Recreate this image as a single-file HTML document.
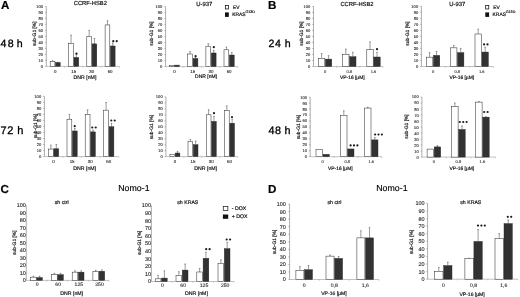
<!DOCTYPE html>
<html><head><meta charset="utf-8"><style>
html,body{margin:0;padding:0;background:#fff;}
body{width:520px;height:297px;overflow:hidden;}
.sm{stroke:#111;stroke-width:0.18px;}
.tk{stroke:#222;stroke-width:0.1px;}
svg{display:block;font-family:"Liberation Sans", sans-serif;filter:grayscale(1) blur(0.3px);text-rendering:geometricPrecision;}
</style></head><body>
<svg width="520" height="297" viewBox="0 0 520 297">
<rect width="520" height="297" fill="#fff"/>
<line x1="46.3" y1="6.30" x2="46.3" y2="66.40" stroke="#777" stroke-width="0.6"/>
<line x1="46.3" y1="66.40" x2="119.5" y2="66.40" stroke="#999" stroke-width="0.6"/>
<line x1="45.0" y1="66.40" x2="46.3" y2="66.40" stroke="#777" stroke-width="0.5"/>
<text class="tk" x="43.10" y="67.88" font-size="4.1" text-anchor="end" font-weight="normal" fill="#222" >0</text>
<line x1="45.0" y1="60.39" x2="46.3" y2="60.39" stroke="#777" stroke-width="0.5"/>
<text class="tk" x="43.10" y="61.87" font-size="4.1" text-anchor="end" font-weight="normal" fill="#222" >10</text>
<line x1="45.0" y1="54.38" x2="46.3" y2="54.38" stroke="#777" stroke-width="0.5"/>
<text class="tk" x="43.10" y="55.86" font-size="4.1" text-anchor="end" font-weight="normal" fill="#222" >20</text>
<line x1="45.0" y1="48.37" x2="46.3" y2="48.37" stroke="#777" stroke-width="0.5"/>
<text class="tk" x="43.10" y="49.85" font-size="4.1" text-anchor="end" font-weight="normal" fill="#222" >30</text>
<line x1="45.0" y1="42.36" x2="46.3" y2="42.36" stroke="#777" stroke-width="0.5"/>
<text class="tk" x="43.10" y="43.84" font-size="4.1" text-anchor="end" font-weight="normal" fill="#222" >40</text>
<line x1="45.0" y1="36.35" x2="46.3" y2="36.35" stroke="#777" stroke-width="0.5"/>
<text class="tk" x="43.10" y="37.83" font-size="4.1" text-anchor="end" font-weight="normal" fill="#222" >50</text>
<line x1="45.0" y1="30.34" x2="46.3" y2="30.34" stroke="#777" stroke-width="0.5"/>
<text class="tk" x="43.10" y="31.82" font-size="4.1" text-anchor="end" font-weight="normal" fill="#222" >60</text>
<line x1="45.0" y1="24.33" x2="46.3" y2="24.33" stroke="#777" stroke-width="0.5"/>
<text class="tk" x="43.10" y="25.81" font-size="4.1" text-anchor="end" font-weight="normal" fill="#222" >70</text>
<line x1="45.0" y1="18.32" x2="46.3" y2="18.32" stroke="#777" stroke-width="0.5"/>
<text class="tk" x="43.10" y="19.80" font-size="4.1" text-anchor="end" font-weight="normal" fill="#222" >80</text>
<line x1="45.0" y1="12.31" x2="46.3" y2="12.31" stroke="#777" stroke-width="0.5"/>
<text class="tk" x="43.10" y="13.79" font-size="4.1" text-anchor="end" font-weight="normal" fill="#222" >90</text>
<line x1="45.0" y1="6.30" x2="46.3" y2="6.30" stroke="#777" stroke-width="0.5"/>
<text class="tk" x="43.10" y="7.78" font-size="4.1" text-anchor="end" font-weight="normal" fill="#222" >100</text>
<line x1="64.60" y1="66.40" x2="64.60" y2="67.60" stroke="#999" stroke-width="0.5"/>
<line x1="82.90" y1="66.40" x2="82.90" y2="67.60" stroke="#999" stroke-width="0.5"/>
<line x1="101.20" y1="66.40" x2="101.20" y2="67.60" stroke="#999" stroke-width="0.5"/>
<line x1="119.50" y1="66.40" x2="119.50" y2="67.60" stroke="#999" stroke-width="0.5"/>
<line x1="52.55" y1="61.59" x2="52.55" y2="60.69" stroke="#3a3a3a" stroke-width="0.5"/>
<line x1="51.75" y1="60.69" x2="53.35" y2="60.69" stroke="#3a3a3a" stroke-width="0.5"/>
<rect x="50.20" y="61.59" width="4.70" height="4.81" fill="#fff" stroke="#222" stroke-width="0.5"/>
<line x1="57.85" y1="62.49" x2="57.85" y2="62.19" stroke="#3a3a3a" stroke-width="0.5"/>
<line x1="57.05" y1="62.19" x2="58.65" y2="62.19" stroke="#3a3a3a" stroke-width="0.5"/>
<rect x="55.50" y="62.49" width="4.70" height="3.91" fill="#323232" stroke="#222" stroke-width="0.4"/>
<text class="tk" x="55.20" y="73.08" font-size="4.4" text-anchor="middle" font-weight="normal" fill="#222" >0</text>
<line x1="71.05" y1="43.56" x2="71.05" y2="35.15" stroke="#3a3a3a" stroke-width="0.5"/>
<line x1="70.25" y1="35.15" x2="71.85" y2="35.15" stroke="#3a3a3a" stroke-width="0.5"/>
<rect x="68.70" y="43.56" width="4.70" height="22.84" fill="#fff" stroke="#222" stroke-width="0.5"/>
<line x1="76.35" y1="57.39" x2="76.35" y2="53.78" stroke="#3a3a3a" stroke-width="0.5"/>
<line x1="75.55" y1="53.78" x2="77.15" y2="53.78" stroke="#3a3a3a" stroke-width="0.5"/>
<rect x="74.00" y="57.39" width="4.70" height="9.02" fill="#323232" stroke="#222" stroke-width="0.4"/>
<circle cx="76.50" cy="53.70" r="1.1" fill="#1a1a1a"/>
<text class="tk" x="73.70" y="73.08" font-size="4.4" text-anchor="middle" font-weight="normal" fill="#222" >15</text>
<line x1="89.15" y1="36.35" x2="89.15" y2="30.34" stroke="#3a3a3a" stroke-width="0.5"/>
<line x1="88.35" y1="30.34" x2="89.95" y2="30.34" stroke="#3a3a3a" stroke-width="0.5"/>
<rect x="86.80" y="36.35" width="4.70" height="30.05" fill="#fff" stroke="#222" stroke-width="0.5"/>
<line x1="94.45" y1="43.86" x2="94.45" y2="38.45" stroke="#3a3a3a" stroke-width="0.5"/>
<line x1="93.65" y1="38.45" x2="95.25" y2="38.45" stroke="#3a3a3a" stroke-width="0.5"/>
<rect x="92.10" y="43.86" width="4.70" height="22.54" fill="#323232" stroke="#222" stroke-width="0.4"/>
<text class="tk" x="91.80" y="73.08" font-size="4.4" text-anchor="middle" font-weight="normal" fill="#222" >30</text>
<line x1="107.45" y1="24.93" x2="107.45" y2="20.72" stroke="#3a3a3a" stroke-width="0.5"/>
<line x1="106.65" y1="20.72" x2="108.25" y2="20.72" stroke="#3a3a3a" stroke-width="0.5"/>
<rect x="105.10" y="24.93" width="4.70" height="41.47" fill="#fff" stroke="#222" stroke-width="0.5"/>
<line x1="112.75" y1="45.97" x2="112.75" y2="42.96" stroke="#3a3a3a" stroke-width="0.5"/>
<line x1="111.95" y1="42.96" x2="113.55" y2="42.96" stroke="#3a3a3a" stroke-width="0.5"/>
<rect x="110.40" y="45.97" width="4.70" height="20.43" fill="#323232" stroke="#222" stroke-width="0.4"/>
<circle cx="113.30" cy="41.20" r="1.1" fill="#1a1a1a"/>
<circle cx="116.70" cy="41.20" r="1.1" fill="#1a1a1a"/>
<text class="tk" x="110.10" y="73.08" font-size="4.4" text-anchor="middle" font-weight="normal" fill="#222" >60</text>
<text class="sm" x="85.00" y="78.57" font-size="5.2" text-anchor="middle" font-weight="normal" fill="#111" >DNR [nM]</text>
<text class="sm" x="90.30" y="5.29" font-size="5.8" text-anchor="middle" font-weight="normal" fill="#111" >CCRF-HSB2</text>
<text class="sm" x="0" y="0" font-size="4.9" text-anchor="middle" fill="#111" transform="translate(36.02,33.70) rotate(-90)">sub-G1 [%]</text>
<line x1="165.6" y1="6.60" x2="165.6" y2="66.60" stroke="#777" stroke-width="0.6"/>
<line x1="165.6" y1="66.60" x2="237.8" y2="66.60" stroke="#999" stroke-width="0.6"/>
<line x1="164.29999999999998" y1="66.60" x2="165.6" y2="66.60" stroke="#777" stroke-width="0.5"/>
<text class="tk" x="162.40" y="68.08" font-size="4.1" text-anchor="end" font-weight="normal" fill="#222" >0</text>
<line x1="164.29999999999998" y1="60.60" x2="165.6" y2="60.60" stroke="#777" stroke-width="0.5"/>
<text class="tk" x="162.40" y="62.08" font-size="4.1" text-anchor="end" font-weight="normal" fill="#222" >10</text>
<line x1="164.29999999999998" y1="54.60" x2="165.6" y2="54.60" stroke="#777" stroke-width="0.5"/>
<text class="tk" x="162.40" y="56.08" font-size="4.1" text-anchor="end" font-weight="normal" fill="#222" >20</text>
<line x1="164.29999999999998" y1="48.60" x2="165.6" y2="48.60" stroke="#777" stroke-width="0.5"/>
<text class="tk" x="162.40" y="50.08" font-size="4.1" text-anchor="end" font-weight="normal" fill="#222" >30</text>
<line x1="164.29999999999998" y1="42.60" x2="165.6" y2="42.60" stroke="#777" stroke-width="0.5"/>
<text class="tk" x="162.40" y="44.08" font-size="4.1" text-anchor="end" font-weight="normal" fill="#222" >40</text>
<line x1="164.29999999999998" y1="36.60" x2="165.6" y2="36.60" stroke="#777" stroke-width="0.5"/>
<text class="tk" x="162.40" y="38.08" font-size="4.1" text-anchor="end" font-weight="normal" fill="#222" >50</text>
<line x1="164.29999999999998" y1="30.60" x2="165.6" y2="30.60" stroke="#777" stroke-width="0.5"/>
<text class="tk" x="162.40" y="32.08" font-size="4.1" text-anchor="end" font-weight="normal" fill="#222" >60</text>
<line x1="164.29999999999998" y1="24.60" x2="165.6" y2="24.60" stroke="#777" stroke-width="0.5"/>
<text class="tk" x="162.40" y="26.08" font-size="4.1" text-anchor="end" font-weight="normal" fill="#222" >70</text>
<line x1="164.29999999999998" y1="18.60" x2="165.6" y2="18.60" stroke="#777" stroke-width="0.5"/>
<text class="tk" x="162.40" y="20.08" font-size="4.1" text-anchor="end" font-weight="normal" fill="#222" >80</text>
<line x1="164.29999999999998" y1="12.60" x2="165.6" y2="12.60" stroke="#777" stroke-width="0.5"/>
<text class="tk" x="162.40" y="14.08" font-size="4.1" text-anchor="end" font-weight="normal" fill="#222" >90</text>
<line x1="164.29999999999998" y1="6.60" x2="165.6" y2="6.60" stroke="#777" stroke-width="0.5"/>
<text class="tk" x="162.40" y="8.08" font-size="4.1" text-anchor="end" font-weight="normal" fill="#222" >100</text>
<line x1="183.65" y1="66.60" x2="183.65" y2="67.80" stroke="#999" stroke-width="0.5"/>
<line x1="201.70" y1="66.60" x2="201.70" y2="67.80" stroke="#999" stroke-width="0.5"/>
<line x1="219.75" y1="66.60" x2="219.75" y2="67.80" stroke="#999" stroke-width="0.5"/>
<line x1="237.80" y1="66.60" x2="237.80" y2="67.80" stroke="#999" stroke-width="0.5"/>
<rect x="169.30" y="65.70" width="4.80" height="0.90" fill="#fff" stroke="#222" stroke-width="0.5"/>
<rect x="174.70" y="65.10" width="4.80" height="1.50" fill="#323232" stroke="#222" stroke-width="0.4"/>
<text class="tk" x="174.40" y="72.68" font-size="4.4" text-anchor="middle" font-weight="normal" fill="#222" >0</text>
<line x1="190.10" y1="54.00" x2="190.10" y2="51.60" stroke="#3a3a3a" stroke-width="0.5"/>
<line x1="189.30" y1="51.60" x2="190.90" y2="51.60" stroke="#3a3a3a" stroke-width="0.5"/>
<rect x="187.70" y="54.00" width="4.80" height="12.60" fill="#fff" stroke="#222" stroke-width="0.5"/>
<line x1="195.50" y1="58.38" x2="195.50" y2="57.30" stroke="#3a3a3a" stroke-width="0.5"/>
<line x1="194.70" y1="57.30" x2="196.30" y2="57.30" stroke="#3a3a3a" stroke-width="0.5"/>
<rect x="193.10" y="58.38" width="4.80" height="8.22" fill="#323232" stroke="#222" stroke-width="0.4"/>
<circle cx="195.60" cy="56.20" r="1.1" fill="#1a1a1a"/>
<text class="tk" x="192.80" y="72.68" font-size="4.4" text-anchor="middle" font-weight="normal" fill="#222" >15</text>
<line x1="208.30" y1="46.20" x2="208.30" y2="43.80" stroke="#3a3a3a" stroke-width="0.5"/>
<line x1="207.50" y1="43.80" x2="209.10" y2="43.80" stroke="#3a3a3a" stroke-width="0.5"/>
<rect x="205.90" y="46.20" width="4.80" height="20.40" fill="#fff" stroke="#222" stroke-width="0.5"/>
<line x1="213.70" y1="52.98" x2="213.70" y2="50.40" stroke="#3a3a3a" stroke-width="0.5"/>
<line x1="212.90" y1="50.40" x2="214.50" y2="50.40" stroke="#3a3a3a" stroke-width="0.5"/>
<rect x="211.30" y="52.98" width="4.80" height="13.62" fill="#323232" stroke="#222" stroke-width="0.4"/>
<circle cx="213.80" cy="47.20" r="1.1" fill="#1a1a1a"/>
<text class="tk" x="211.00" y="72.68" font-size="4.4" text-anchor="middle" font-weight="normal" fill="#222" >30</text>
<line x1="226.40" y1="49.80" x2="226.40" y2="47.10" stroke="#3a3a3a" stroke-width="0.5"/>
<line x1="225.60" y1="47.10" x2="227.20" y2="47.10" stroke="#3a3a3a" stroke-width="0.5"/>
<rect x="224.00" y="49.80" width="4.80" height="16.80" fill="#fff" stroke="#222" stroke-width="0.5"/>
<line x1="231.80" y1="55.02" x2="231.80" y2="52.50" stroke="#3a3a3a" stroke-width="0.5"/>
<line x1="231.00" y1="52.50" x2="232.60" y2="52.50" stroke="#3a3a3a" stroke-width="0.5"/>
<rect x="229.40" y="55.02" width="4.80" height="11.58" fill="#323232" stroke="#222" stroke-width="0.4"/>
<text class="tk" x="229.10" y="72.68" font-size="4.4" text-anchor="middle" font-weight="normal" fill="#222" >60</text>
<text class="sm" x="206.00" y="78.10" font-size="5.0" text-anchor="middle" font-weight="normal" fill="#111" >DNR [nM]</text>
<text class="sm" x="204.30" y="5.62" font-size="5.9" text-anchor="middle" font-weight="normal" fill="#111" >U-937</text>
<text class="sm" x="0" y="0" font-size="4.9" text-anchor="middle" fill="#111" transform="translate(152.82,33.50) rotate(-90)">sub-G1 [%]</text>
<line x1="44.4" y1="96.30" x2="44.4" y2="156.60" stroke="#777" stroke-width="0.6"/>
<line x1="44.4" y1="156.60" x2="118.7" y2="156.60" stroke="#999" stroke-width="0.6"/>
<line x1="43.1" y1="156.60" x2="44.4" y2="156.60" stroke="#777" stroke-width="0.5"/>
<text class="tk" x="41.20" y="158.08" font-size="4.1" text-anchor="end" font-weight="normal" fill="#222" >0</text>
<line x1="43.1" y1="150.57" x2="44.4" y2="150.57" stroke="#777" stroke-width="0.5"/>
<text class="tk" x="41.20" y="152.05" font-size="4.1" text-anchor="end" font-weight="normal" fill="#222" >10</text>
<line x1="43.1" y1="144.54" x2="44.4" y2="144.54" stroke="#777" stroke-width="0.5"/>
<text class="tk" x="41.20" y="146.02" font-size="4.1" text-anchor="end" font-weight="normal" fill="#222" >20</text>
<line x1="43.1" y1="138.51" x2="44.4" y2="138.51" stroke="#777" stroke-width="0.5"/>
<text class="tk" x="41.20" y="139.99" font-size="4.1" text-anchor="end" font-weight="normal" fill="#222" >30</text>
<line x1="43.1" y1="132.48" x2="44.4" y2="132.48" stroke="#777" stroke-width="0.5"/>
<text class="tk" x="41.20" y="133.96" font-size="4.1" text-anchor="end" font-weight="normal" fill="#222" >40</text>
<line x1="43.1" y1="126.45" x2="44.4" y2="126.45" stroke="#777" stroke-width="0.5"/>
<text class="tk" x="41.20" y="127.93" font-size="4.1" text-anchor="end" font-weight="normal" fill="#222" >50</text>
<line x1="43.1" y1="120.42" x2="44.4" y2="120.42" stroke="#777" stroke-width="0.5"/>
<text class="tk" x="41.20" y="121.90" font-size="4.1" text-anchor="end" font-weight="normal" fill="#222" >60</text>
<line x1="43.1" y1="114.39" x2="44.4" y2="114.39" stroke="#777" stroke-width="0.5"/>
<text class="tk" x="41.20" y="115.87" font-size="4.1" text-anchor="end" font-weight="normal" fill="#222" >70</text>
<line x1="43.1" y1="108.36" x2="44.4" y2="108.36" stroke="#777" stroke-width="0.5"/>
<text class="tk" x="41.20" y="109.84" font-size="4.1" text-anchor="end" font-weight="normal" fill="#222" >80</text>
<line x1="43.1" y1="102.33" x2="44.4" y2="102.33" stroke="#777" stroke-width="0.5"/>
<text class="tk" x="41.20" y="103.81" font-size="4.1" text-anchor="end" font-weight="normal" fill="#222" >90</text>
<line x1="43.1" y1="96.30" x2="44.4" y2="96.30" stroke="#777" stroke-width="0.5"/>
<text class="tk" x="41.20" y="97.78" font-size="4.1" text-anchor="end" font-weight="normal" fill="#222" >100</text>
<line x1="62.98" y1="156.60" x2="62.98" y2="157.80" stroke="#999" stroke-width="0.5"/>
<line x1="81.55" y1="156.60" x2="81.55" y2="157.80" stroke="#999" stroke-width="0.5"/>
<line x1="100.12" y1="156.60" x2="100.12" y2="157.80" stroke="#999" stroke-width="0.5"/>
<line x1="118.70" y1="156.60" x2="118.70" y2="157.80" stroke="#999" stroke-width="0.5"/>
<line x1="50.90" y1="149.06" x2="50.90" y2="145.14" stroke="#3a3a3a" stroke-width="0.5"/>
<line x1="50.10" y1="145.14" x2="51.70" y2="145.14" stroke="#3a3a3a" stroke-width="0.5"/>
<rect x="48.50" y="149.06" width="4.80" height="7.54" fill="#fff" stroke="#222" stroke-width="0.5"/>
<line x1="56.30" y1="148.76" x2="56.30" y2="144.54" stroke="#3a3a3a" stroke-width="0.5"/>
<line x1="55.50" y1="144.54" x2="57.10" y2="144.54" stroke="#3a3a3a" stroke-width="0.5"/>
<rect x="53.90" y="148.76" width="4.80" height="7.84" fill="#323232" stroke="#222" stroke-width="0.4"/>
<text class="tk" x="53.60" y="163.18" font-size="4.4" text-anchor="middle" font-weight="normal" fill="#222" >0</text>
<line x1="69.40" y1="119.21" x2="69.40" y2="114.39" stroke="#3a3a3a" stroke-width="0.5"/>
<line x1="68.60" y1="114.39" x2="70.20" y2="114.39" stroke="#3a3a3a" stroke-width="0.5"/>
<rect x="67.00" y="119.21" width="4.80" height="37.39" fill="#fff" stroke="#222" stroke-width="0.5"/>
<line x1="74.80" y1="130.97" x2="74.80" y2="128.44" stroke="#3a3a3a" stroke-width="0.5"/>
<line x1="74.00" y1="128.44" x2="75.60" y2="128.44" stroke="#3a3a3a" stroke-width="0.5"/>
<rect x="72.40" y="130.97" width="4.80" height="25.63" fill="#323232" stroke="#222" stroke-width="0.4"/>
<circle cx="74.70" cy="126.20" r="1.1" fill="#1a1a1a"/>
<text class="tk" x="72.10" y="163.18" font-size="4.4" text-anchor="middle" font-weight="normal" fill="#222" >15</text>
<line x1="87.60" y1="114.39" x2="87.60" y2="109.87" stroke="#3a3a3a" stroke-width="0.5"/>
<line x1="86.80" y1="109.87" x2="88.40" y2="109.87" stroke="#3a3a3a" stroke-width="0.5"/>
<rect x="85.20" y="114.39" width="4.80" height="42.21" fill="#fff" stroke="#222" stroke-width="0.5"/>
<line x1="93.00" y1="131.88" x2="93.00" y2="130.07" stroke="#3a3a3a" stroke-width="0.5"/>
<line x1="92.20" y1="130.07" x2="93.80" y2="130.07" stroke="#3a3a3a" stroke-width="0.5"/>
<rect x="90.60" y="131.88" width="4.80" height="24.72" fill="#323232" stroke="#222" stroke-width="0.4"/>
<circle cx="92.30" cy="127.50" r="1.1" fill="#1a1a1a"/>
<circle cx="95.70" cy="127.50" r="1.1" fill="#1a1a1a"/>
<text class="tk" x="90.30" y="163.18" font-size="4.4" text-anchor="middle" font-weight="normal" fill="#222" >30</text>
<line x1="106.10" y1="110.17" x2="106.10" y2="102.51" stroke="#3a3a3a" stroke-width="0.5"/>
<line x1="105.30" y1="102.51" x2="106.90" y2="102.51" stroke="#3a3a3a" stroke-width="0.5"/>
<rect x="103.70" y="110.17" width="4.80" height="46.43" fill="#fff" stroke="#222" stroke-width="0.5"/>
<line x1="111.50" y1="126.75" x2="111.50" y2="123.44" stroke="#3a3a3a" stroke-width="0.5"/>
<line x1="110.70" y1="123.44" x2="112.30" y2="123.44" stroke="#3a3a3a" stroke-width="0.5"/>
<rect x="109.10" y="126.75" width="4.80" height="29.85" fill="#323232" stroke="#222" stroke-width="0.4"/>
<circle cx="111.30" cy="120.50" r="1.1" fill="#1a1a1a"/>
<circle cx="114.70" cy="120.50" r="1.1" fill="#1a1a1a"/>
<text class="tk" x="108.80" y="163.18" font-size="4.4" text-anchor="middle" font-weight="normal" fill="#222" >60</text>
<text class="sm" x="84.70" y="169.57" font-size="5.2" text-anchor="middle" font-weight="normal" fill="#111" >DNR [nM]</text>
<text class="sm" x="0" y="0" font-size="4.9" text-anchor="middle" fill="#111" transform="translate(36.52,126.10) rotate(-90)">sub-G1 [%]</text>
<line x1="165.9" y1="96.90" x2="165.9" y2="156.60" stroke="#777" stroke-width="0.6"/>
<line x1="165.9" y1="156.60" x2="237.7" y2="156.60" stroke="#999" stroke-width="0.6"/>
<line x1="164.6" y1="156.60" x2="165.9" y2="156.60" stroke="#777" stroke-width="0.5"/>
<text class="tk" x="162.70" y="158.08" font-size="4.1" text-anchor="end" font-weight="normal" fill="#222" >0</text>
<line x1="164.6" y1="150.63" x2="165.9" y2="150.63" stroke="#777" stroke-width="0.5"/>
<text class="tk" x="162.70" y="152.11" font-size="4.1" text-anchor="end" font-weight="normal" fill="#222" >10</text>
<line x1="164.6" y1="144.66" x2="165.9" y2="144.66" stroke="#777" stroke-width="0.5"/>
<text class="tk" x="162.70" y="146.14" font-size="4.1" text-anchor="end" font-weight="normal" fill="#222" >20</text>
<line x1="164.6" y1="138.69" x2="165.9" y2="138.69" stroke="#777" stroke-width="0.5"/>
<text class="tk" x="162.70" y="140.17" font-size="4.1" text-anchor="end" font-weight="normal" fill="#222" >30</text>
<line x1="164.6" y1="132.72" x2="165.9" y2="132.72" stroke="#777" stroke-width="0.5"/>
<text class="tk" x="162.70" y="134.20" font-size="4.1" text-anchor="end" font-weight="normal" fill="#222" >40</text>
<line x1="164.6" y1="126.75" x2="165.9" y2="126.75" stroke="#777" stroke-width="0.5"/>
<text class="tk" x="162.70" y="128.23" font-size="4.1" text-anchor="end" font-weight="normal" fill="#222" >50</text>
<line x1="164.6" y1="120.78" x2="165.9" y2="120.78" stroke="#777" stroke-width="0.5"/>
<text class="tk" x="162.70" y="122.26" font-size="4.1" text-anchor="end" font-weight="normal" fill="#222" >60</text>
<line x1="164.6" y1="114.81" x2="165.9" y2="114.81" stroke="#777" stroke-width="0.5"/>
<text class="tk" x="162.70" y="116.29" font-size="4.1" text-anchor="end" font-weight="normal" fill="#222" >70</text>
<line x1="164.6" y1="108.84" x2="165.9" y2="108.84" stroke="#777" stroke-width="0.5"/>
<text class="tk" x="162.70" y="110.32" font-size="4.1" text-anchor="end" font-weight="normal" fill="#222" >80</text>
<line x1="164.6" y1="102.87" x2="165.9" y2="102.87" stroke="#777" stroke-width="0.5"/>
<text class="tk" x="162.70" y="104.35" font-size="4.1" text-anchor="end" font-weight="normal" fill="#222" >90</text>
<line x1="164.6" y1="96.90" x2="165.9" y2="96.90" stroke="#777" stroke-width="0.5"/>
<text class="tk" x="162.70" y="98.38" font-size="4.1" text-anchor="end" font-weight="normal" fill="#222" >100</text>
<line x1="183.85" y1="156.60" x2="183.85" y2="157.80" stroke="#999" stroke-width="0.5"/>
<line x1="201.80" y1="156.60" x2="201.80" y2="157.80" stroke="#999" stroke-width="0.5"/>
<line x1="219.75" y1="156.60" x2="219.75" y2="157.80" stroke="#999" stroke-width="0.5"/>
<line x1="237.70" y1="156.60" x2="237.70" y2="157.80" stroke="#999" stroke-width="0.5"/>
<rect x="169.90" y="154.39" width="4.70" height="2.21" fill="#fff" stroke="#222" stroke-width="0.5"/>
<line x1="177.55" y1="153.02" x2="177.55" y2="151.41" stroke="#3a3a3a" stroke-width="0.5"/>
<line x1="176.75" y1="151.41" x2="178.35" y2="151.41" stroke="#3a3a3a" stroke-width="0.5"/>
<rect x="175.20" y="153.02" width="4.70" height="3.58" fill="#323232" stroke="#222" stroke-width="0.4"/>
<text class="tk" x="174.90" y="162.98" font-size="4.4" text-anchor="middle" font-weight="normal" fill="#222" >0</text>
<line x1="190.35" y1="141.26" x2="190.35" y2="139.47" stroke="#3a3a3a" stroke-width="0.5"/>
<line x1="189.55" y1="139.47" x2="191.15" y2="139.47" stroke="#3a3a3a" stroke-width="0.5"/>
<rect x="188.00" y="141.26" width="4.70" height="15.34" fill="#fff" stroke="#222" stroke-width="0.5"/>
<line x1="195.65" y1="144.66" x2="195.65" y2="141.08" stroke="#3a3a3a" stroke-width="0.5"/>
<line x1="194.85" y1="141.08" x2="196.45" y2="141.08" stroke="#3a3a3a" stroke-width="0.5"/>
<rect x="193.30" y="144.66" width="4.70" height="11.94" fill="#323232" stroke="#222" stroke-width="0.4"/>
<text class="tk" x="193.00" y="162.98" font-size="4.4" text-anchor="middle" font-weight="normal" fill="#222" >15</text>
<line x1="208.65" y1="114.81" x2="208.65" y2="109.74" stroke="#3a3a3a" stroke-width="0.5"/>
<line x1="207.85" y1="109.74" x2="209.45" y2="109.74" stroke="#3a3a3a" stroke-width="0.5"/>
<rect x="206.30" y="114.81" width="4.70" height="41.79" fill="#fff" stroke="#222" stroke-width="0.5"/>
<line x1="213.95" y1="121.38" x2="213.95" y2="116.42" stroke="#3a3a3a" stroke-width="0.5"/>
<line x1="213.15" y1="116.42" x2="214.75" y2="116.42" stroke="#3a3a3a" stroke-width="0.5"/>
<rect x="211.60" y="121.38" width="4.70" height="35.22" fill="#323232" stroke="#222" stroke-width="0.4"/>
<circle cx="214.00" cy="113.20" r="1.1" fill="#1a1a1a"/>
<text class="tk" x="211.30" y="162.98" font-size="4.4" text-anchor="middle" font-weight="normal" fill="#222" >30</text>
<line x1="226.85" y1="110.63" x2="226.85" y2="105.86" stroke="#3a3a3a" stroke-width="0.5"/>
<line x1="226.05" y1="105.86" x2="227.65" y2="105.86" stroke="#3a3a3a" stroke-width="0.5"/>
<rect x="224.50" y="110.63" width="4.70" height="45.97" fill="#fff" stroke="#222" stroke-width="0.5"/>
<line x1="232.15" y1="123.17" x2="232.15" y2="118.99" stroke="#3a3a3a" stroke-width="0.5"/>
<line x1="231.35" y1="118.99" x2="232.95" y2="118.99" stroke="#3a3a3a" stroke-width="0.5"/>
<rect x="229.80" y="123.17" width="4.70" height="33.43" fill="#323232" stroke="#222" stroke-width="0.4"/>
<circle cx="232.00" cy="117.00" r="1.1" fill="#1a1a1a"/>
<text class="tk" x="229.50" y="162.98" font-size="4.4" text-anchor="middle" font-weight="normal" fill="#222" >60</text>
<text class="sm" x="205.70" y="170.07" font-size="5.2" text-anchor="middle" font-weight="normal" fill="#111" >DNR [nM]</text>
<text class="sm" x="0" y="0" font-size="4.9" text-anchor="middle" fill="#111" transform="translate(152.72,127.10) rotate(-90)">sub-G1 [%]</text>
<line x1="313.5" y1="6.40" x2="313.5" y2="66.50" stroke="#777" stroke-width="0.6"/>
<line x1="313.5" y1="66.50" x2="383" y2="66.50" stroke="#999" stroke-width="0.6"/>
<line x1="312.2" y1="66.50" x2="313.5" y2="66.50" stroke="#777" stroke-width="0.5"/>
<text class="tk" x="310.30" y="67.98" font-size="4.1" text-anchor="end" font-weight="normal" fill="#222" >0</text>
<line x1="312.2" y1="60.49" x2="313.5" y2="60.49" stroke="#777" stroke-width="0.5"/>
<text class="tk" x="310.30" y="61.97" font-size="4.1" text-anchor="end" font-weight="normal" fill="#222" >10</text>
<line x1="312.2" y1="54.48" x2="313.5" y2="54.48" stroke="#777" stroke-width="0.5"/>
<text class="tk" x="310.30" y="55.96" font-size="4.1" text-anchor="end" font-weight="normal" fill="#222" >20</text>
<line x1="312.2" y1="48.47" x2="313.5" y2="48.47" stroke="#777" stroke-width="0.5"/>
<text class="tk" x="310.30" y="49.95" font-size="4.1" text-anchor="end" font-weight="normal" fill="#222" >30</text>
<line x1="312.2" y1="42.46" x2="313.5" y2="42.46" stroke="#777" stroke-width="0.5"/>
<text class="tk" x="310.30" y="43.94" font-size="4.1" text-anchor="end" font-weight="normal" fill="#222" >40</text>
<line x1="312.2" y1="36.45" x2="313.5" y2="36.45" stroke="#777" stroke-width="0.5"/>
<text class="tk" x="310.30" y="37.93" font-size="4.1" text-anchor="end" font-weight="normal" fill="#222" >50</text>
<line x1="312.2" y1="30.44" x2="313.5" y2="30.44" stroke="#777" stroke-width="0.5"/>
<text class="tk" x="310.30" y="31.92" font-size="4.1" text-anchor="end" font-weight="normal" fill="#222" >60</text>
<line x1="312.2" y1="24.43" x2="313.5" y2="24.43" stroke="#777" stroke-width="0.5"/>
<text class="tk" x="310.30" y="25.91" font-size="4.1" text-anchor="end" font-weight="normal" fill="#222" >70</text>
<line x1="312.2" y1="18.42" x2="313.5" y2="18.42" stroke="#777" stroke-width="0.5"/>
<text class="tk" x="310.30" y="19.90" font-size="4.1" text-anchor="end" font-weight="normal" fill="#222" >80</text>
<line x1="312.2" y1="12.41" x2="313.5" y2="12.41" stroke="#777" stroke-width="0.5"/>
<text class="tk" x="310.30" y="13.89" font-size="4.1" text-anchor="end" font-weight="normal" fill="#222" >90</text>
<line x1="312.2" y1="6.40" x2="313.5" y2="6.40" stroke="#777" stroke-width="0.5"/>
<text class="tk" x="310.30" y="7.88" font-size="4.1" text-anchor="end" font-weight="normal" fill="#222" >100</text>
<line x1="336.67" y1="66.50" x2="336.67" y2="67.70" stroke="#999" stroke-width="0.5"/>
<line x1="359.83" y1="66.50" x2="359.83" y2="67.70" stroke="#999" stroke-width="0.5"/>
<line x1="383.00" y1="66.50" x2="383.00" y2="67.70" stroke="#999" stroke-width="0.5"/>
<line x1="321.60" y1="58.39" x2="321.60" y2="53.58" stroke="#3a3a3a" stroke-width="0.5"/>
<line x1="320.80" y1="53.58" x2="322.40" y2="53.58" stroke="#3a3a3a" stroke-width="0.5"/>
<rect x="318.40" y="58.39" width="6.40" height="8.11" fill="#fff" stroke="#222" stroke-width="0.5"/>
<line x1="328.60" y1="59.11" x2="328.60" y2="55.68" stroke="#3a3a3a" stroke-width="0.5"/>
<line x1="327.80" y1="55.68" x2="329.40" y2="55.68" stroke="#3a3a3a" stroke-width="0.5"/>
<rect x="325.40" y="59.11" width="6.40" height="7.39" fill="#323232" stroke="#222" stroke-width="0.4"/>
<text class="tk" x="325.10" y="72.94" font-size="4.0" text-anchor="middle" font-weight="normal" fill="#222" >0</text>
<line x1="345.80" y1="54.48" x2="345.80" y2="49.07" stroke="#3a3a3a" stroke-width="0.5"/>
<line x1="345.00" y1="49.07" x2="346.60" y2="49.07" stroke="#3a3a3a" stroke-width="0.5"/>
<rect x="342.60" y="54.48" width="6.40" height="12.02" fill="#fff" stroke="#222" stroke-width="0.5"/>
<line x1="352.80" y1="56.70" x2="352.80" y2="52.26" stroke="#3a3a3a" stroke-width="0.5"/>
<line x1="352.00" y1="52.26" x2="353.60" y2="52.26" stroke="#3a3a3a" stroke-width="0.5"/>
<rect x="349.60" y="56.70" width="6.40" height="9.80" fill="#323232" stroke="#222" stroke-width="0.4"/>
<text class="tk" x="349.30" y="72.94" font-size="4.0" text-anchor="middle" font-weight="normal" fill="#222" >0.8</text>
<line x1="370.00" y1="49.67" x2="370.00" y2="41.86" stroke="#3a3a3a" stroke-width="0.5"/>
<line x1="369.20" y1="41.86" x2="370.80" y2="41.86" stroke="#3a3a3a" stroke-width="0.5"/>
<rect x="366.80" y="49.67" width="6.40" height="16.83" fill="#fff" stroke="#222" stroke-width="0.5"/>
<line x1="377.00" y1="57.00" x2="377.00" y2="52.26" stroke="#3a3a3a" stroke-width="0.5"/>
<line x1="376.20" y1="52.26" x2="377.80" y2="52.26" stroke="#3a3a3a" stroke-width="0.5"/>
<rect x="373.80" y="57.00" width="6.40" height="9.50" fill="#323232" stroke="#222" stroke-width="0.4"/>
<circle cx="377.00" cy="49.20" r="1.1" fill="#1a1a1a"/>
<text class="tk" x="373.50" y="72.94" font-size="4.0" text-anchor="middle" font-weight="normal" fill="#222" >1.6</text>
<text class="sm" x="352.30" y="79.06" font-size="4.9" text-anchor="middle" font-weight="normal" fill="#111" >VP-16 [µM]</text>
<text class="sm" x="357.00" y="5.59" font-size="5.8" text-anchor="middle" font-weight="normal" fill="#111" >CCRF-HSB2</text>
<text class="sm" x="0" y="0" font-size="4.9" text-anchor="middle" fill="#111" transform="translate(302.52,33.50) rotate(-90)">sub-G1 [%]</text>
<line x1="421.4" y1="6.30" x2="421.4" y2="66.50" stroke="#777" stroke-width="0.6"/>
<line x1="421.4" y1="66.50" x2="493.7" y2="66.50" stroke="#999" stroke-width="0.6"/>
<line x1="420.09999999999997" y1="66.50" x2="421.4" y2="66.50" stroke="#777" stroke-width="0.5"/>
<text class="tk" x="418.20" y="67.98" font-size="4.1" text-anchor="end" font-weight="normal" fill="#222" >0</text>
<line x1="420.09999999999997" y1="60.48" x2="421.4" y2="60.48" stroke="#777" stroke-width="0.5"/>
<text class="tk" x="418.20" y="61.96" font-size="4.1" text-anchor="end" font-weight="normal" fill="#222" >10</text>
<line x1="420.09999999999997" y1="54.46" x2="421.4" y2="54.46" stroke="#777" stroke-width="0.5"/>
<text class="tk" x="418.20" y="55.94" font-size="4.1" text-anchor="end" font-weight="normal" fill="#222" >20</text>
<line x1="420.09999999999997" y1="48.44" x2="421.4" y2="48.44" stroke="#777" stroke-width="0.5"/>
<text class="tk" x="418.20" y="49.92" font-size="4.1" text-anchor="end" font-weight="normal" fill="#222" >30</text>
<line x1="420.09999999999997" y1="42.42" x2="421.4" y2="42.42" stroke="#777" stroke-width="0.5"/>
<text class="tk" x="418.20" y="43.90" font-size="4.1" text-anchor="end" font-weight="normal" fill="#222" >40</text>
<line x1="420.09999999999997" y1="36.40" x2="421.4" y2="36.40" stroke="#777" stroke-width="0.5"/>
<text class="tk" x="418.20" y="37.88" font-size="4.1" text-anchor="end" font-weight="normal" fill="#222" >50</text>
<line x1="420.09999999999997" y1="30.38" x2="421.4" y2="30.38" stroke="#777" stroke-width="0.5"/>
<text class="tk" x="418.20" y="31.86" font-size="4.1" text-anchor="end" font-weight="normal" fill="#222" >60</text>
<line x1="420.09999999999997" y1="24.36" x2="421.4" y2="24.36" stroke="#777" stroke-width="0.5"/>
<text class="tk" x="418.20" y="25.84" font-size="4.1" text-anchor="end" font-weight="normal" fill="#222" >70</text>
<line x1="420.09999999999997" y1="18.34" x2="421.4" y2="18.34" stroke="#777" stroke-width="0.5"/>
<text class="tk" x="418.20" y="19.82" font-size="4.1" text-anchor="end" font-weight="normal" fill="#222" >80</text>
<line x1="420.09999999999997" y1="12.32" x2="421.4" y2="12.32" stroke="#777" stroke-width="0.5"/>
<text class="tk" x="418.20" y="13.80" font-size="4.1" text-anchor="end" font-weight="normal" fill="#222" >90</text>
<line x1="420.09999999999997" y1="6.30" x2="421.4" y2="6.30" stroke="#777" stroke-width="0.5"/>
<text class="tk" x="418.20" y="7.78" font-size="4.1" text-anchor="end" font-weight="normal" fill="#222" >100</text>
<line x1="445.50" y1="66.50" x2="445.50" y2="67.70" stroke="#999" stroke-width="0.5"/>
<line x1="469.60" y1="66.50" x2="469.60" y2="67.70" stroke="#999" stroke-width="0.5"/>
<line x1="493.70" y1="66.50" x2="493.70" y2="67.70" stroke="#999" stroke-width="0.5"/>
<line x1="429.60" y1="57.17" x2="429.60" y2="52.65" stroke="#3a3a3a" stroke-width="0.5"/>
<line x1="428.80" y1="52.65" x2="430.40" y2="52.65" stroke="#3a3a3a" stroke-width="0.5"/>
<rect x="426.40" y="57.17" width="6.40" height="9.33" fill="#fff" stroke="#222" stroke-width="0.5"/>
<line x1="436.60" y1="55.36" x2="436.60" y2="51.45" stroke="#3a3a3a" stroke-width="0.5"/>
<line x1="435.80" y1="51.45" x2="437.40" y2="51.45" stroke="#3a3a3a" stroke-width="0.5"/>
<rect x="433.40" y="55.36" width="6.40" height="11.14" fill="#323232" stroke="#222" stroke-width="0.4"/>
<text class="tk" x="433.10" y="72.74" font-size="4.0" text-anchor="middle" font-weight="normal" fill="#222" >0</text>
<line x1="453.70" y1="47.84" x2="453.70" y2="45.43" stroke="#3a3a3a" stroke-width="0.5"/>
<line x1="452.90" y1="45.43" x2="454.50" y2="45.43" stroke="#3a3a3a" stroke-width="0.5"/>
<rect x="450.50" y="47.84" width="6.40" height="18.66" fill="#fff" stroke="#222" stroke-width="0.5"/>
<line x1="460.70" y1="52.65" x2="460.70" y2="48.44" stroke="#3a3a3a" stroke-width="0.5"/>
<line x1="459.90" y1="48.44" x2="461.50" y2="48.44" stroke="#3a3a3a" stroke-width="0.5"/>
<rect x="457.50" y="52.65" width="6.40" height="13.85" fill="#323232" stroke="#222" stroke-width="0.4"/>
<text class="tk" x="457.20" y="72.74" font-size="4.0" text-anchor="middle" font-weight="normal" fill="#222" >0.8</text>
<line x1="478.20" y1="33.99" x2="478.20" y2="29.18" stroke="#3a3a3a" stroke-width="0.5"/>
<line x1="477.40" y1="29.18" x2="479.00" y2="29.18" stroke="#3a3a3a" stroke-width="0.5"/>
<rect x="475.00" y="33.99" width="6.40" height="32.51" fill="#fff" stroke="#222" stroke-width="0.5"/>
<line x1="485.20" y1="52.05" x2="485.20" y2="47.24" stroke="#3a3a3a" stroke-width="0.5"/>
<line x1="484.40" y1="47.24" x2="486.00" y2="47.24" stroke="#3a3a3a" stroke-width="0.5"/>
<rect x="482.00" y="52.05" width="6.40" height="14.45" fill="#323232" stroke="#222" stroke-width="0.4"/>
<circle cx="484.10" cy="44.40" r="1.1" fill="#1a1a1a"/>
<circle cx="487.50" cy="44.40" r="1.1" fill="#1a1a1a"/>
<text class="tk" x="481.70" y="72.74" font-size="4.0" text-anchor="middle" font-weight="normal" fill="#222" >1.6</text>
<text class="sm" x="461.80" y="79.06" font-size="4.9" text-anchor="middle" font-weight="normal" fill="#111" >VP-16 [µM]</text>
<text class="sm" x="457.20" y="5.62" font-size="5.9" text-anchor="middle" font-weight="normal" fill="#111" >U-937</text>
<text class="sm" x="0" y="0" font-size="4.9" text-anchor="middle" fill="#111" transform="translate(408.92,33.50) rotate(-90)">sub-G1 [%]</text>
<line x1="310.2" y1="97.10" x2="310.2" y2="156.70" stroke="#777" stroke-width="0.6"/>
<line x1="310.2" y1="156.70" x2="381.9" y2="156.70" stroke="#999" stroke-width="0.6"/>
<line x1="308.9" y1="156.70" x2="310.2" y2="156.70" stroke="#777" stroke-width="0.5"/>
<text class="tk" x="307.00" y="158.18" font-size="4.1" text-anchor="end" font-weight="normal" fill="#222" >0</text>
<line x1="308.9" y1="150.74" x2="310.2" y2="150.74" stroke="#777" stroke-width="0.5"/>
<text class="tk" x="307.00" y="152.22" font-size="4.1" text-anchor="end" font-weight="normal" fill="#222" >10</text>
<line x1="308.9" y1="144.78" x2="310.2" y2="144.78" stroke="#777" stroke-width="0.5"/>
<text class="tk" x="307.00" y="146.26" font-size="4.1" text-anchor="end" font-weight="normal" fill="#222" >20</text>
<line x1="308.9" y1="138.82" x2="310.2" y2="138.82" stroke="#777" stroke-width="0.5"/>
<text class="tk" x="307.00" y="140.30" font-size="4.1" text-anchor="end" font-weight="normal" fill="#222" >30</text>
<line x1="308.9" y1="132.86" x2="310.2" y2="132.86" stroke="#777" stroke-width="0.5"/>
<text class="tk" x="307.00" y="134.34" font-size="4.1" text-anchor="end" font-weight="normal" fill="#222" >40</text>
<line x1="308.9" y1="126.90" x2="310.2" y2="126.90" stroke="#777" stroke-width="0.5"/>
<text class="tk" x="307.00" y="128.38" font-size="4.1" text-anchor="end" font-weight="normal" fill="#222" >50</text>
<line x1="308.9" y1="120.94" x2="310.2" y2="120.94" stroke="#777" stroke-width="0.5"/>
<text class="tk" x="307.00" y="122.42" font-size="4.1" text-anchor="end" font-weight="normal" fill="#222" >60</text>
<line x1="308.9" y1="114.98" x2="310.2" y2="114.98" stroke="#777" stroke-width="0.5"/>
<text class="tk" x="307.00" y="116.46" font-size="4.1" text-anchor="end" font-weight="normal" fill="#222" >70</text>
<line x1="308.9" y1="109.02" x2="310.2" y2="109.02" stroke="#777" stroke-width="0.5"/>
<text class="tk" x="307.00" y="110.50" font-size="4.1" text-anchor="end" font-weight="normal" fill="#222" >80</text>
<line x1="308.9" y1="103.06" x2="310.2" y2="103.06" stroke="#777" stroke-width="0.5"/>
<text class="tk" x="307.00" y="104.54" font-size="4.1" text-anchor="end" font-weight="normal" fill="#222" >90</text>
<line x1="308.9" y1="97.10" x2="310.2" y2="97.10" stroke="#777" stroke-width="0.5"/>
<text class="tk" x="307.00" y="98.58" font-size="4.1" text-anchor="end" font-weight="normal" fill="#222" >100</text>
<line x1="334.10" y1="156.70" x2="334.10" y2="157.90" stroke="#999" stroke-width="0.5"/>
<line x1="358.00" y1="156.70" x2="358.00" y2="157.90" stroke="#999" stroke-width="0.5"/>
<line x1="381.90" y1="156.70" x2="381.90" y2="157.90" stroke="#999" stroke-width="0.5"/>
<rect x="316.00" y="149.25" width="6.40" height="7.45" fill="#fff" stroke="#222" stroke-width="0.5"/>
<rect x="323.00" y="154.32" width="6.40" height="2.38" fill="#323232" stroke="#222" stroke-width="0.4"/>
<text class="tk" x="322.70" y="163.34" font-size="4.0" text-anchor="middle" font-weight="normal" fill="#222" >0</text>
<line x1="343.80" y1="115.40" x2="343.80" y2="110.81" stroke="#3a3a3a" stroke-width="0.5"/>
<line x1="343.00" y1="110.81" x2="344.60" y2="110.81" stroke="#3a3a3a" stroke-width="0.5"/>
<rect x="340.60" y="115.40" width="6.40" height="41.30" fill="#fff" stroke="#222" stroke-width="0.5"/>
<rect x="347.60" y="148.95" width="6.40" height="7.75" fill="#323232" stroke="#222" stroke-width="0.4"/>
<circle cx="350.60" cy="145.40" r="1.1" fill="#1a1a1a"/>
<circle cx="354.00" cy="145.40" r="1.1" fill="#1a1a1a"/>
<circle cx="357.40" cy="145.40" r="1.1" fill="#1a1a1a"/>
<text class="tk" x="347.30" y="163.34" font-size="4.0" text-anchor="middle" font-weight="normal" fill="#222" >0.8</text>
<line x1="367.80" y1="108.07" x2="367.80" y2="107.11" stroke="#3a3a3a" stroke-width="0.5"/>
<line x1="367.00" y1="107.11" x2="368.60" y2="107.11" stroke="#3a3a3a" stroke-width="0.5"/>
<rect x="364.60" y="108.07" width="6.40" height="48.63" fill="#fff" stroke="#222" stroke-width="0.5"/>
<line x1="374.80" y1="139.89" x2="374.80" y2="137.63" stroke="#3a3a3a" stroke-width="0.5"/>
<line x1="374.00" y1="137.63" x2="375.60" y2="137.63" stroke="#3a3a3a" stroke-width="0.5"/>
<rect x="371.60" y="139.89" width="6.40" height="16.81" fill="#323232" stroke="#222" stroke-width="0.4"/>
<circle cx="375.10" cy="134.50" r="1.1" fill="#1a1a1a"/>
<circle cx="378.50" cy="134.50" r="1.1" fill="#1a1a1a"/>
<circle cx="381.90" cy="134.50" r="1.1" fill="#1a1a1a"/>
<text class="tk" x="371.30" y="163.34" font-size="4.0" text-anchor="middle" font-weight="normal" fill="#222" >1.6</text>
<text class="sm" x="340.30" y="170.26" font-size="4.9" text-anchor="middle" font-weight="normal" fill="#111" >VP-16 [µM]</text>
<text class="sm" x="0" y="0" font-size="4.9" text-anchor="middle" fill="#111" transform="translate(299.92,127.10) rotate(-90)">sub-G1 [%]</text>
<line x1="421.9" y1="97.00" x2="421.9" y2="157.10" stroke="#777" stroke-width="0.6"/>
<line x1="421.9" y1="157.10" x2="495.6" y2="157.10" stroke="#999" stroke-width="0.6"/>
<line x1="420.59999999999997" y1="157.10" x2="421.9" y2="157.10" stroke="#777" stroke-width="0.5"/>
<text class="tk" x="418.70" y="158.58" font-size="4.1" text-anchor="end" font-weight="normal" fill="#222" >0</text>
<line x1="420.59999999999997" y1="151.09" x2="421.9" y2="151.09" stroke="#777" stroke-width="0.5"/>
<text class="tk" x="418.70" y="152.57" font-size="4.1" text-anchor="end" font-weight="normal" fill="#222" >10</text>
<line x1="420.59999999999997" y1="145.08" x2="421.9" y2="145.08" stroke="#777" stroke-width="0.5"/>
<text class="tk" x="418.70" y="146.56" font-size="4.1" text-anchor="end" font-weight="normal" fill="#222" >20</text>
<line x1="420.59999999999997" y1="139.07" x2="421.9" y2="139.07" stroke="#777" stroke-width="0.5"/>
<text class="tk" x="418.70" y="140.55" font-size="4.1" text-anchor="end" font-weight="normal" fill="#222" >30</text>
<line x1="420.59999999999997" y1="133.06" x2="421.9" y2="133.06" stroke="#777" stroke-width="0.5"/>
<text class="tk" x="418.70" y="134.54" font-size="4.1" text-anchor="end" font-weight="normal" fill="#222" >40</text>
<line x1="420.59999999999997" y1="127.05" x2="421.9" y2="127.05" stroke="#777" stroke-width="0.5"/>
<text class="tk" x="418.70" y="128.53" font-size="4.1" text-anchor="end" font-weight="normal" fill="#222" >50</text>
<line x1="420.59999999999997" y1="121.04" x2="421.9" y2="121.04" stroke="#777" stroke-width="0.5"/>
<text class="tk" x="418.70" y="122.52" font-size="4.1" text-anchor="end" font-weight="normal" fill="#222" >60</text>
<line x1="420.59999999999997" y1="115.03" x2="421.9" y2="115.03" stroke="#777" stroke-width="0.5"/>
<text class="tk" x="418.70" y="116.51" font-size="4.1" text-anchor="end" font-weight="normal" fill="#222" >70</text>
<line x1="420.59999999999997" y1="109.02" x2="421.9" y2="109.02" stroke="#777" stroke-width="0.5"/>
<text class="tk" x="418.70" y="110.50" font-size="4.1" text-anchor="end" font-weight="normal" fill="#222" >80</text>
<line x1="420.59999999999997" y1="103.01" x2="421.9" y2="103.01" stroke="#777" stroke-width="0.5"/>
<text class="tk" x="418.70" y="104.49" font-size="4.1" text-anchor="end" font-weight="normal" fill="#222" >90</text>
<line x1="420.59999999999997" y1="97.00" x2="421.9" y2="97.00" stroke="#777" stroke-width="0.5"/>
<text class="tk" x="418.70" y="98.48" font-size="4.1" text-anchor="end" font-weight="normal" fill="#222" >100</text>
<line x1="446.47" y1="157.10" x2="446.47" y2="158.30" stroke="#999" stroke-width="0.5"/>
<line x1="471.03" y1="157.10" x2="471.03" y2="158.30" stroke="#999" stroke-width="0.5"/>
<line x1="495.60" y1="157.10" x2="495.60" y2="158.30" stroke="#999" stroke-width="0.5"/>
<rect x="427.10" y="149.11" width="6.50" height="7.99" fill="#fff" stroke="#222" stroke-width="0.5"/>
<line x1="437.45" y1="146.88" x2="437.45" y2="145.68" stroke="#3a3a3a" stroke-width="0.5"/>
<line x1="436.65" y1="145.68" x2="438.25" y2="145.68" stroke="#3a3a3a" stroke-width="0.5"/>
<rect x="434.20" y="146.88" width="6.50" height="10.22" fill="#323232" stroke="#222" stroke-width="0.4"/>
<text class="tk" x="433.90" y="163.44" font-size="4.0" text-anchor="middle" font-weight="normal" fill="#222" >0</text>
<line x1="454.85" y1="106.62" x2="454.85" y2="103.01" stroke="#3a3a3a" stroke-width="0.5"/>
<line x1="454.05" y1="103.01" x2="455.65" y2="103.01" stroke="#3a3a3a" stroke-width="0.5"/>
<rect x="451.60" y="106.62" width="6.50" height="50.48" fill="#fff" stroke="#222" stroke-width="0.5"/>
<line x1="461.95" y1="129.45" x2="461.95" y2="125.85" stroke="#3a3a3a" stroke-width="0.5"/>
<line x1="461.15" y1="125.85" x2="462.75" y2="125.85" stroke="#3a3a3a" stroke-width="0.5"/>
<rect x="458.70" y="129.45" width="6.50" height="27.65" fill="#323232" stroke="#222" stroke-width="0.4"/>
<circle cx="459.80" cy="122.00" r="1.1" fill="#1a1a1a"/>
<circle cx="463.20" cy="122.00" r="1.1" fill="#1a1a1a"/>
<circle cx="466.60" cy="122.00" r="1.1" fill="#1a1a1a"/>
<text class="tk" x="458.40" y="163.44" font-size="4.0" text-anchor="middle" font-weight="normal" fill="#222" >0.8</text>
<line x1="478.85" y1="102.11" x2="478.85" y2="101.51" stroke="#3a3a3a" stroke-width="0.5"/>
<line x1="478.05" y1="101.51" x2="479.65" y2="101.51" stroke="#3a3a3a" stroke-width="0.5"/>
<rect x="475.60" y="102.11" width="6.50" height="54.99" fill="#fff" stroke="#222" stroke-width="0.5"/>
<line x1="485.95" y1="117.13" x2="485.95" y2="116.71" stroke="#3a3a3a" stroke-width="0.5"/>
<line x1="485.15" y1="116.71" x2="486.75" y2="116.71" stroke="#3a3a3a" stroke-width="0.5"/>
<rect x="482.70" y="117.13" width="6.50" height="39.97" fill="#323232" stroke="#222" stroke-width="0.4"/>
<circle cx="484.20" cy="112.00" r="1.1" fill="#1a1a1a"/>
<circle cx="487.60" cy="112.00" r="1.1" fill="#1a1a1a"/>
<text class="tk" x="482.40" y="163.44" font-size="4.0" text-anchor="middle" font-weight="normal" fill="#222" >1.6</text>
<text class="sm" x="461.90" y="170.26" font-size="4.9" text-anchor="middle" font-weight="normal" fill="#111" >VP-16 [µM]</text>
<text class="sm" x="0" y="0" font-size="4.9" text-anchor="middle" fill="#111" transform="translate(407.92,126.50) rotate(-90)">sub-G1 [%]</text>
<line x1="26.3" y1="205.30" x2="26.3" y2="280.40" stroke="#777" stroke-width="0.6"/>
<line x1="26.3" y1="280.40" x2="109" y2="280.40" stroke="#999" stroke-width="0.6"/>
<text class="tk" x="25.90" y="282.38" font-size="5.5" text-anchor="end" font-weight="normal" fill="#222" >0</text>
<text class="tk" x="25.90" y="274.87" font-size="5.5" text-anchor="end" font-weight="normal" fill="#222" >10</text>
<text class="tk" x="25.90" y="267.36" font-size="5.5" text-anchor="end" font-weight="normal" fill="#222" >20</text>
<text class="tk" x="25.90" y="259.85" font-size="5.5" text-anchor="end" font-weight="normal" fill="#222" >30</text>
<text class="tk" x="25.90" y="252.34" font-size="5.5" text-anchor="end" font-weight="normal" fill="#222" >40</text>
<text class="tk" x="25.90" y="244.83" font-size="5.5" text-anchor="end" font-weight="normal" fill="#222" >50</text>
<text class="tk" x="25.90" y="237.32" font-size="5.5" text-anchor="end" font-weight="normal" fill="#222" >60</text>
<text class="tk" x="25.90" y="229.81" font-size="5.5" text-anchor="end" font-weight="normal" fill="#222" >70</text>
<text class="tk" x="25.90" y="222.30" font-size="5.5" text-anchor="end" font-weight="normal" fill="#222" >80</text>
<text class="tk" x="25.90" y="214.79" font-size="5.5" text-anchor="end" font-weight="normal" fill="#222" >90</text>
<text class="tk" x="25.90" y="207.28" font-size="5.5" text-anchor="end" font-weight="normal" fill="#222" >100</text>
<line x1="46.98" y1="280.40" x2="46.98" y2="281.60" stroke="#999" stroke-width="0.5"/>
<line x1="67.65" y1="280.40" x2="67.65" y2="281.60" stroke="#999" stroke-width="0.5"/>
<line x1="88.33" y1="280.40" x2="88.33" y2="281.60" stroke="#999" stroke-width="0.5"/>
<line x1="109.00" y1="280.40" x2="109.00" y2="281.60" stroke="#999" stroke-width="0.5"/>
<line x1="33.40" y1="277.17" x2="33.40" y2="276.19" stroke="#3a3a3a" stroke-width="0.5"/>
<line x1="32.60" y1="276.19" x2="34.20" y2="276.19" stroke="#3a3a3a" stroke-width="0.5"/>
<rect x="30.60" y="277.17" width="5.60" height="3.23" fill="#fff" stroke="#222" stroke-width="0.5"/>
<line x1="39.60" y1="277.55" x2="39.60" y2="276.19" stroke="#3a3a3a" stroke-width="0.5"/>
<line x1="38.80" y1="276.19" x2="40.40" y2="276.19" stroke="#3a3a3a" stroke-width="0.5"/>
<rect x="36.80" y="277.55" width="5.60" height="2.85" fill="#323232" stroke="#222" stroke-width="0.4"/>
<text class="tk" x="37.20" y="286.24" font-size="5.1" text-anchor="middle" font-weight="normal" fill="#222" >0</text>
<line x1="54.40" y1="274.69" x2="54.40" y2="273.34" stroke="#3a3a3a" stroke-width="0.5"/>
<line x1="53.60" y1="273.34" x2="55.20" y2="273.34" stroke="#3a3a3a" stroke-width="0.5"/>
<rect x="51.60" y="274.69" width="5.60" height="5.71" fill="#fff" stroke="#222" stroke-width="0.5"/>
<line x1="60.60" y1="274.69" x2="60.60" y2="273.34" stroke="#3a3a3a" stroke-width="0.5"/>
<line x1="59.80" y1="273.34" x2="61.40" y2="273.34" stroke="#3a3a3a" stroke-width="0.5"/>
<rect x="57.80" y="274.69" width="5.60" height="5.71" fill="#323232" stroke="#222" stroke-width="0.4"/>
<text class="tk" x="58.20" y="286.24" font-size="5.1" text-anchor="middle" font-weight="normal" fill="#222" >60</text>
<line x1="75.00" y1="272.14" x2="75.00" y2="270.79" stroke="#3a3a3a" stroke-width="0.5"/>
<line x1="74.20" y1="270.79" x2="75.80" y2="270.79" stroke="#3a3a3a" stroke-width="0.5"/>
<rect x="72.20" y="272.14" width="5.60" height="8.26" fill="#fff" stroke="#222" stroke-width="0.5"/>
<line x1="81.20" y1="272.14" x2="81.20" y2="270.79" stroke="#3a3a3a" stroke-width="0.5"/>
<line x1="80.40" y1="270.79" x2="82.00" y2="270.79" stroke="#3a3a3a" stroke-width="0.5"/>
<rect x="78.40" y="272.14" width="5.60" height="8.26" fill="#323232" stroke="#222" stroke-width="0.4"/>
<text class="tk" x="78.80" y="286.24" font-size="5.1" text-anchor="middle" font-weight="normal" fill="#222" >125</text>
<line x1="95.70" y1="271.69" x2="95.70" y2="270.34" stroke="#3a3a3a" stroke-width="0.5"/>
<line x1="94.90" y1="270.34" x2="96.50" y2="270.34" stroke="#3a3a3a" stroke-width="0.5"/>
<rect x="92.90" y="271.69" width="5.60" height="8.71" fill="#fff" stroke="#222" stroke-width="0.5"/>
<line x1="101.90" y1="271.24" x2="101.90" y2="269.89" stroke="#3a3a3a" stroke-width="0.5"/>
<line x1="101.10" y1="269.89" x2="102.70" y2="269.89" stroke="#3a3a3a" stroke-width="0.5"/>
<rect x="99.10" y="271.24" width="5.60" height="9.16" fill="#323232" stroke="#222" stroke-width="0.4"/>
<text class="tk" x="99.50" y="286.24" font-size="5.1" text-anchor="middle" font-weight="normal" fill="#222" >250</text>
<text class="sm" x="71.70" y="295.07" font-size="5.2" text-anchor="middle" font-weight="normal" fill="#111" >DNR [nM]</text>
<text class="sm" x="61.70" y="204.07" font-size="5.2" text-anchor="middle" font-weight="normal" fill="#111" >sh ctrl</text>
<text class="sm" x="0" y="0" font-size="4.9" text-anchor="middle" fill="#111" transform="translate(16.42,242.70) rotate(-90)">sub-G1 [%]</text>
<line x1="151.4" y1="205.40" x2="151.4" y2="281.50" stroke="#777" stroke-width="0.6"/>
<line x1="151.4" y1="281.50" x2="234.2" y2="281.50" stroke="#999" stroke-width="0.6"/>
<text class="tk" x="151.00" y="283.48" font-size="5.5" text-anchor="end" font-weight="normal" fill="#222" >0</text>
<text class="tk" x="151.00" y="275.87" font-size="5.5" text-anchor="end" font-weight="normal" fill="#222" >10</text>
<text class="tk" x="151.00" y="268.26" font-size="5.5" text-anchor="end" font-weight="normal" fill="#222" >20</text>
<text class="tk" x="151.00" y="260.65" font-size="5.5" text-anchor="end" font-weight="normal" fill="#222" >30</text>
<text class="tk" x="151.00" y="253.04" font-size="5.5" text-anchor="end" font-weight="normal" fill="#222" >40</text>
<text class="tk" x="151.00" y="245.43" font-size="5.5" text-anchor="end" font-weight="normal" fill="#222" >50</text>
<text class="tk" x="151.00" y="237.82" font-size="5.5" text-anchor="end" font-weight="normal" fill="#222" >60</text>
<text class="tk" x="151.00" y="230.21" font-size="5.5" text-anchor="end" font-weight="normal" fill="#222" >70</text>
<text class="tk" x="151.00" y="222.60" font-size="5.5" text-anchor="end" font-weight="normal" fill="#222" >80</text>
<text class="tk" x="151.00" y="214.99" font-size="5.5" text-anchor="end" font-weight="normal" fill="#222" >90</text>
<text class="tk" x="151.00" y="207.38" font-size="5.5" text-anchor="end" font-weight="normal" fill="#222" >100</text>
<line x1="172.10" y1="281.50" x2="172.10" y2="282.70" stroke="#999" stroke-width="0.5"/>
<line x1="192.80" y1="281.50" x2="192.80" y2="282.70" stroke="#999" stroke-width="0.5"/>
<line x1="213.50" y1="281.50" x2="213.50" y2="282.70" stroke="#999" stroke-width="0.5"/>
<line x1="234.20" y1="281.50" x2="234.20" y2="282.70" stroke="#999" stroke-width="0.5"/>
<line x1="158.05" y1="278.84" x2="158.05" y2="275.41" stroke="#3a3a3a" stroke-width="0.5"/>
<line x1="157.25" y1="275.41" x2="158.85" y2="275.41" stroke="#3a3a3a" stroke-width="0.5"/>
<rect x="155.20" y="278.84" width="5.70" height="2.66" fill="#fff" stroke="#222" stroke-width="0.5"/>
<line x1="164.35" y1="278.08" x2="164.35" y2="270.85" stroke="#3a3a3a" stroke-width="0.5"/>
<line x1="163.55" y1="270.85" x2="165.15" y2="270.85" stroke="#3a3a3a" stroke-width="0.5"/>
<rect x="161.50" y="278.08" width="5.70" height="3.42" fill="#323232" stroke="#222" stroke-width="0.4"/>
<text class="tk" x="162.40" y="287.04" font-size="5.1" text-anchor="middle" font-weight="normal" fill="#222" >0</text>
<line x1="178.85" y1="275.41" x2="178.85" y2="271.76" stroke="#3a3a3a" stroke-width="0.5"/>
<line x1="178.05" y1="271.76" x2="179.65" y2="271.76" stroke="#3a3a3a" stroke-width="0.5"/>
<rect x="176.00" y="275.41" width="5.70" height="6.09" fill="#fff" stroke="#222" stroke-width="0.5"/>
<line x1="185.15" y1="270.08" x2="185.15" y2="264.00" stroke="#3a3a3a" stroke-width="0.5"/>
<line x1="184.35" y1="264.00" x2="185.95" y2="264.00" stroke="#3a3a3a" stroke-width="0.5"/>
<rect x="182.30" y="270.08" width="5.70" height="11.41" fill="#323232" stroke="#222" stroke-width="0.4"/>
<text class="tk" x="183.20" y="287.04" font-size="5.1" text-anchor="middle" font-weight="normal" fill="#222" >60</text>
<line x1="199.65" y1="271.99" x2="199.65" y2="268.56" stroke="#3a3a3a" stroke-width="0.5"/>
<line x1="198.85" y1="268.56" x2="200.45" y2="268.56" stroke="#3a3a3a" stroke-width="0.5"/>
<rect x="196.80" y="271.99" width="5.70" height="9.51" fill="#fff" stroke="#222" stroke-width="0.5"/>
<line x1="205.95" y1="258.29" x2="205.95" y2="252.20" stroke="#3a3a3a" stroke-width="0.5"/>
<line x1="205.15" y1="252.20" x2="206.75" y2="252.20" stroke="#3a3a3a" stroke-width="0.5"/>
<rect x="203.10" y="258.29" width="5.70" height="23.21" fill="#323232" stroke="#222" stroke-width="0.4"/>
<circle cx="206.20" cy="249.20" r="1.1" fill="#1a1a1a"/>
<circle cx="209.60" cy="249.20" r="1.1" fill="#1a1a1a"/>
<text class="tk" x="204.00" y="287.04" font-size="5.1" text-anchor="middle" font-weight="normal" fill="#222" >125</text>
<line x1="220.85" y1="263.24" x2="220.85" y2="259.81" stroke="#3a3a3a" stroke-width="0.5"/>
<line x1="220.05" y1="259.81" x2="221.65" y2="259.81" stroke="#3a3a3a" stroke-width="0.5"/>
<rect x="218.00" y="263.24" width="5.70" height="18.26" fill="#fff" stroke="#222" stroke-width="0.5"/>
<line x1="227.15" y1="248.62" x2="227.15" y2="242.31" stroke="#3a3a3a" stroke-width="0.5"/>
<line x1="226.35" y1="242.31" x2="227.95" y2="242.31" stroke="#3a3a3a" stroke-width="0.5"/>
<rect x="224.30" y="248.62" width="5.70" height="32.88" fill="#323232" stroke="#222" stroke-width="0.4"/>
<circle cx="226.70" cy="239.50" r="1.1" fill="#1a1a1a"/>
<circle cx="230.10" cy="239.50" r="1.1" fill="#1a1a1a"/>
<text class="tk" x="225.20" y="287.04" font-size="5.1" text-anchor="middle" font-weight="normal" fill="#222" >250</text>
<text class="sm" x="196.50" y="294.97" font-size="5.2" text-anchor="middle" font-weight="normal" fill="#111" >DNR [nM]</text>
<text class="sm" x="187.80" y="204.27" font-size="5.2" text-anchor="middle" font-weight="normal" fill="#111" >sh KRAS</text>
<text class="sm" x="0" y="0" font-size="4.9" text-anchor="middle" fill="#111" transform="translate(140.52,242.80) rotate(-90)">sub-G1 [%]</text>
<line x1="289.6" y1="204.10" x2="289.6" y2="279.50" stroke="#777" stroke-width="0.6"/>
<line x1="289.6" y1="279.50" x2="378.8" y2="279.50" stroke="#999" stroke-width="0.6"/>
<line x1="288.3" y1="279.50" x2="289.6" y2="279.50" stroke="#777" stroke-width="0.5"/>
<text class="tk" x="285.90" y="281.48" font-size="5.5" text-anchor="end" font-weight="normal" fill="#222" >0</text>
<line x1="288.3" y1="271.96" x2="289.6" y2="271.96" stroke="#777" stroke-width="0.5"/>
<text class="tk" x="285.90" y="273.94" font-size="5.5" text-anchor="end" font-weight="normal" fill="#222" >10</text>
<line x1="288.3" y1="264.42" x2="289.6" y2="264.42" stroke="#777" stroke-width="0.5"/>
<text class="tk" x="285.90" y="266.40" font-size="5.5" text-anchor="end" font-weight="normal" fill="#222" >20</text>
<line x1="288.3" y1="256.88" x2="289.6" y2="256.88" stroke="#777" stroke-width="0.5"/>
<text class="tk" x="285.90" y="258.86" font-size="5.5" text-anchor="end" font-weight="normal" fill="#222" >30</text>
<line x1="288.3" y1="249.34" x2="289.6" y2="249.34" stroke="#777" stroke-width="0.5"/>
<text class="tk" x="285.90" y="251.32" font-size="5.5" text-anchor="end" font-weight="normal" fill="#222" >40</text>
<line x1="288.3" y1="241.80" x2="289.6" y2="241.80" stroke="#777" stroke-width="0.5"/>
<text class="tk" x="285.90" y="243.78" font-size="5.5" text-anchor="end" font-weight="normal" fill="#222" >50</text>
<line x1="288.3" y1="234.26" x2="289.6" y2="234.26" stroke="#777" stroke-width="0.5"/>
<text class="tk" x="285.90" y="236.24" font-size="5.5" text-anchor="end" font-weight="normal" fill="#222" >60</text>
<line x1="288.3" y1="226.72" x2="289.6" y2="226.72" stroke="#777" stroke-width="0.5"/>
<text class="tk" x="285.90" y="228.70" font-size="5.5" text-anchor="end" font-weight="normal" fill="#222" >70</text>
<line x1="288.3" y1="219.18" x2="289.6" y2="219.18" stroke="#777" stroke-width="0.5"/>
<text class="tk" x="285.90" y="221.16" font-size="5.5" text-anchor="end" font-weight="normal" fill="#222" >80</text>
<line x1="288.3" y1="211.64" x2="289.6" y2="211.64" stroke="#777" stroke-width="0.5"/>
<text class="tk" x="285.90" y="213.62" font-size="5.5" text-anchor="end" font-weight="normal" fill="#222" >90</text>
<line x1="288.3" y1="204.10" x2="289.6" y2="204.10" stroke="#777" stroke-width="0.5"/>
<text class="tk" x="285.90" y="206.08" font-size="5.5" text-anchor="end" font-weight="normal" fill="#222" >100</text>
<line x1="319.33" y1="279.50" x2="319.33" y2="280.70" stroke="#999" stroke-width="0.5"/>
<line x1="349.07" y1="279.50" x2="349.07" y2="280.70" stroke="#999" stroke-width="0.5"/>
<line x1="378.80" y1="279.50" x2="378.80" y2="280.70" stroke="#999" stroke-width="0.5"/>
<line x1="299.90" y1="270.45" x2="299.90" y2="266.68" stroke="#3a3a3a" stroke-width="0.5"/>
<line x1="299.10" y1="266.68" x2="300.70" y2="266.68" stroke="#3a3a3a" stroke-width="0.5"/>
<rect x="295.90" y="270.45" width="8.00" height="9.05" fill="#fff" stroke="#222" stroke-width="0.5"/>
<line x1="308.50" y1="269.70" x2="308.50" y2="265.55" stroke="#3a3a3a" stroke-width="0.5"/>
<line x1="307.70" y1="265.55" x2="309.30" y2="265.55" stroke="#3a3a3a" stroke-width="0.5"/>
<rect x="304.50" y="269.70" width="8.00" height="9.80" fill="#323232" stroke="#222" stroke-width="0.4"/>
<text class="tk" x="304.20" y="287.04" font-size="5.1" text-anchor="middle" font-weight="normal" fill="#222" >0</text>
<line x1="330.00" y1="256.13" x2="330.00" y2="255.00" stroke="#3a3a3a" stroke-width="0.5"/>
<line x1="329.20" y1="255.00" x2="330.80" y2="255.00" stroke="#3a3a3a" stroke-width="0.5"/>
<rect x="326.00" y="256.13" width="8.00" height="23.37" fill="#fff" stroke="#222" stroke-width="0.5"/>
<line x1="338.60" y1="258.39" x2="338.60" y2="256.50" stroke="#3a3a3a" stroke-width="0.5"/>
<line x1="337.80" y1="256.50" x2="339.40" y2="256.50" stroke="#3a3a3a" stroke-width="0.5"/>
<rect x="334.60" y="258.39" width="8.00" height="21.11" fill="#323232" stroke="#222" stroke-width="0.4"/>
<text class="tk" x="334.30" y="287.04" font-size="5.1" text-anchor="middle" font-weight="normal" fill="#222" >0,8</text>
<line x1="360.90" y1="237.88" x2="360.90" y2="230.79" stroke="#3a3a3a" stroke-width="0.5"/>
<line x1="360.10" y1="230.79" x2="361.70" y2="230.79" stroke="#3a3a3a" stroke-width="0.5"/>
<rect x="356.90" y="237.88" width="8.00" height="41.62" fill="#fff" stroke="#222" stroke-width="0.5"/>
<line x1="369.50" y1="237.88" x2="369.50" y2="227.62" stroke="#3a3a3a" stroke-width="0.5"/>
<line x1="368.70" y1="227.62" x2="370.30" y2="227.62" stroke="#3a3a3a" stroke-width="0.5"/>
<rect x="365.50" y="237.88" width="8.00" height="41.62" fill="#323232" stroke="#222" stroke-width="0.4"/>
<text class="tk" x="365.20" y="287.04" font-size="5.1" text-anchor="middle" font-weight="normal" fill="#222" >1,6</text>
<text class="sm" x="333.90" y="295.02" font-size="5.05" text-anchor="middle" font-weight="normal" fill="#111" >VP-16 [µM]</text>
<text class="sm" x="334.40" y="204.37" font-size="5.2" text-anchor="middle" font-weight="normal" fill="#111" >sh ctrl</text>
<text class="sm" x="0" y="0" font-size="4.9" text-anchor="middle" fill="#111" transform="translate(276.02,241.90) rotate(-90)">sub-G1 [%]</text>
<line x1="427.6" y1="203.40" x2="427.6" y2="279.20" stroke="#777" stroke-width="0.6"/>
<line x1="427.6" y1="279.20" x2="517.9" y2="279.20" stroke="#999" stroke-width="0.6"/>
<line x1="426.3" y1="279.20" x2="427.6" y2="279.20" stroke="#777" stroke-width="0.5"/>
<text class="tk" x="424.60" y="281.18" font-size="5.5" text-anchor="end" font-weight="normal" fill="#222" >0</text>
<line x1="426.3" y1="271.62" x2="427.6" y2="271.62" stroke="#777" stroke-width="0.5"/>
<text class="tk" x="424.60" y="273.60" font-size="5.5" text-anchor="end" font-weight="normal" fill="#222" >10</text>
<line x1="426.3" y1="264.04" x2="427.6" y2="264.04" stroke="#777" stroke-width="0.5"/>
<text class="tk" x="424.60" y="266.02" font-size="5.5" text-anchor="end" font-weight="normal" fill="#222" >20</text>
<line x1="426.3" y1="256.46" x2="427.6" y2="256.46" stroke="#777" stroke-width="0.5"/>
<text class="tk" x="424.60" y="258.44" font-size="5.5" text-anchor="end" font-weight="normal" fill="#222" >30</text>
<line x1="426.3" y1="248.88" x2="427.6" y2="248.88" stroke="#777" stroke-width="0.5"/>
<text class="tk" x="424.60" y="250.86" font-size="5.5" text-anchor="end" font-weight="normal" fill="#222" >40</text>
<line x1="426.3" y1="241.30" x2="427.6" y2="241.30" stroke="#777" stroke-width="0.5"/>
<text class="tk" x="424.60" y="243.28" font-size="5.5" text-anchor="end" font-weight="normal" fill="#222" >50</text>
<line x1="426.3" y1="233.72" x2="427.6" y2="233.72" stroke="#777" stroke-width="0.5"/>
<text class="tk" x="424.60" y="235.70" font-size="5.5" text-anchor="end" font-weight="normal" fill="#222" >60</text>
<line x1="426.3" y1="226.14" x2="427.6" y2="226.14" stroke="#777" stroke-width="0.5"/>
<text class="tk" x="424.60" y="228.12" font-size="5.5" text-anchor="end" font-weight="normal" fill="#222" >70</text>
<line x1="426.3" y1="218.56" x2="427.6" y2="218.56" stroke="#777" stroke-width="0.5"/>
<text class="tk" x="424.60" y="220.54" font-size="5.5" text-anchor="end" font-weight="normal" fill="#222" >80</text>
<line x1="426.3" y1="210.98" x2="427.6" y2="210.98" stroke="#777" stroke-width="0.5"/>
<text class="tk" x="424.60" y="212.96" font-size="5.5" text-anchor="end" font-weight="normal" fill="#222" >90</text>
<line x1="426.3" y1="203.40" x2="427.6" y2="203.40" stroke="#777" stroke-width="0.5"/>
<text class="tk" x="424.60" y="205.38" font-size="5.5" text-anchor="end" font-weight="normal" fill="#222" >100</text>
<line x1="457.70" y1="279.20" x2="457.70" y2="280.40" stroke="#999" stroke-width="0.5"/>
<line x1="487.80" y1="279.20" x2="487.80" y2="280.40" stroke="#999" stroke-width="0.5"/>
<line x1="517.90" y1="279.20" x2="517.90" y2="280.40" stroke="#999" stroke-width="0.5"/>
<line x1="438.80" y1="271.47" x2="438.80" y2="267.38" stroke="#3a3a3a" stroke-width="0.5"/>
<line x1="438.00" y1="267.38" x2="439.60" y2="267.38" stroke="#3a3a3a" stroke-width="0.5"/>
<rect x="434.60" y="271.47" width="8.40" height="7.73" fill="#fff" stroke="#222" stroke-width="0.5"/>
<line x1="447.80" y1="265.56" x2="447.80" y2="262.22" stroke="#3a3a3a" stroke-width="0.5"/>
<line x1="447.00" y1="262.22" x2="448.60" y2="262.22" stroke="#3a3a3a" stroke-width="0.5"/>
<rect x="443.60" y="265.56" width="8.40" height="13.64" fill="#323232" stroke="#222" stroke-width="0.4"/>
<text class="tk" x="443.30" y="287.14" font-size="5.1" text-anchor="middle" font-weight="normal" fill="#222" >0</text>
<line x1="469.10" y1="258.51" x2="469.10" y2="258.20" stroke="#3a3a3a" stroke-width="0.5"/>
<line x1="468.30" y1="258.20" x2="469.90" y2="258.20" stroke="#3a3a3a" stroke-width="0.5"/>
<rect x="464.90" y="258.51" width="8.40" height="20.69" fill="#fff" stroke="#222" stroke-width="0.5"/>
<line x1="478.10" y1="241.45" x2="478.10" y2="229.55" stroke="#3a3a3a" stroke-width="0.5"/>
<line x1="477.30" y1="229.55" x2="478.90" y2="229.55" stroke="#3a3a3a" stroke-width="0.5"/>
<rect x="473.90" y="241.45" width="8.40" height="37.75" fill="#323232" stroke="#222" stroke-width="0.4"/>
<circle cx="478.00" cy="225.60" r="1.1" fill="#1a1a1a"/>
<circle cx="481.40" cy="225.60" r="1.1" fill="#1a1a1a"/>
<circle cx="484.80" cy="225.60" r="1.1" fill="#1a1a1a"/>
<text class="tk" x="473.60" y="287.14" font-size="5.1" text-anchor="middle" font-weight="normal" fill="#222" >0,8</text>
<line x1="499.20" y1="238.57" x2="499.20" y2="233.57" stroke="#3a3a3a" stroke-width="0.5"/>
<line x1="498.40" y1="233.57" x2="500.00" y2="233.57" stroke="#3a3a3a" stroke-width="0.5"/>
<rect x="495.00" y="238.57" width="8.40" height="40.63" fill="#fff" stroke="#222" stroke-width="0.5"/>
<line x1="508.20" y1="223.56" x2="508.20" y2="220.08" stroke="#3a3a3a" stroke-width="0.5"/>
<line x1="507.40" y1="220.08" x2="509.00" y2="220.08" stroke="#3a3a3a" stroke-width="0.5"/>
<rect x="504.00" y="223.56" width="8.40" height="55.64" fill="#323232" stroke="#222" stroke-width="0.4"/>
<circle cx="507.80" cy="216.80" r="1.1" fill="#1a1a1a"/>
<circle cx="511.20" cy="216.80" r="1.1" fill="#1a1a1a"/>
<text class="tk" x="503.70" y="287.14" font-size="5.1" text-anchor="middle" font-weight="normal" fill="#222" >1,6</text>
<text class="sm" x="472.10" y="295.60" font-size="5.0" text-anchor="middle" font-weight="normal" fill="#111" >VP-16 [µM]</text>
<text class="sm" x="470.80" y="203.97" font-size="5.2" text-anchor="middle" font-weight="normal" fill="#111" >sh KRAS</text>
<text class="sm" x="0" y="0" font-size="4.9" text-anchor="middle" fill="#111" transform="translate(413.12,242.00) rotate(-90)">sub-G1 [%]</text>
<text x="0.90" y="9.38" font-size="11.6" font-weight="bold" fill="#000" stroke="#000" stroke-width="0.2">A</text>
<text x="268.10" y="9.08" font-size="11.6" font-weight="bold" fill="#000" stroke="#000" stroke-width="0.2">B</text>
<text x="0.50" y="192.98" font-size="11.6" font-weight="bold" fill="#000" stroke="#000" stroke-width="0.2">C</text>
<text x="267.90" y="192.78" font-size="11.6" font-weight="bold" fill="#000" stroke="#000" stroke-width="0.2">D</text>
<text x="0.60" y="46.92" font-size="10.6" fill="#000" stroke="#000" stroke-width="0.3"><tspan>4</tspan><tspan dx="1.25">8</tspan><tspan dx="0.15"> h</tspan></text>
<text x="0.45" y="133.96" font-size="11" fill="#000" stroke="#000" stroke-width="0.3"><tspan>7</tspan><tspan dx="0.55">2</tspan><tspan dx="0.95"> h</tspan></text>
<text x="268.50" y="47.22" font-size="10.6" fill="#000" stroke="#000" stroke-width="0.3"><tspan>2</tspan><tspan dx="0.7">4</tspan><tspan dx="0.75"> h</tspan></text>
<text x="268.45" y="133.69" font-size="10.8" fill="#000" stroke="#000" stroke-width="0.3"><tspan>4</tspan><tspan dx="0.65">8</tspan><tspan dx="0.3"> h</tspan></text>
<text x="133.90" y="190.97" font-size="8.8" text-anchor="middle" font-weight="normal" fill="#000" stroke="#000" stroke-width="0.15">Nomo-1</text>
<text x="391.90" y="190.77" font-size="8.8" text-anchor="middle" font-weight="normal" fill="#000" stroke="#000" stroke-width="0.15">Nomo-1</text>
<rect x="225.35" y="5.449999999999999" width="3.1" height="3.5" fill="#fff" stroke="#111" stroke-width="0.75"/>
<rect x="225" y="12.399999999999999" width="3.8" height="4.5" fill="#111"/>
<text class="sm" x="233.00" y="8.66" font-size="4.9" text-anchor="start" font-weight="normal" fill="#111" >EV</text>
<text class="sm" x="232.30" y="16.16" font-size="4.9" text-anchor="start" font-weight="normal" fill="#111" >KRAS</text>
<text class="sm" x="245.40" y="12.93" font-size="3.7" text-anchor="start" font-weight="normal" fill="#111" >G13D</text>
<rect x="485.65000000000003" y="5.449999999999999" width="3.1" height="3.5" fill="#fff" stroke="#111" stroke-width="0.75"/>
<rect x="485.3" y="12.399999999999999" width="3.8" height="4.5" fill="#111"/>
<text class="sm" x="493.30" y="8.66" font-size="4.9" text-anchor="start" font-weight="normal" fill="#111" >EV</text>
<text class="sm" x="492.60" y="16.16" font-size="4.9" text-anchor="start" font-weight="normal" fill="#111" >KRAS</text>
<text class="sm" x="505.70" y="12.93" font-size="3.7" text-anchor="start" font-weight="normal" fill="#111" >G13D</text>
<rect x="223.25" y="206.54999999999998" width="4.6" height="4.0" fill="#fff" stroke="#111" stroke-width="0.7"/>
<rect x="222.9" y="214.5" width="5.3" height="4.3" fill="#111"/>
<text class="sm" x="231.80" y="210.17" font-size="5.2" text-anchor="start" font-weight="normal" fill="#111" >- DOX</text>
<text class="sm" x="231.80" y="218.47" font-size="5.2" text-anchor="start" font-weight="normal" fill="#111" >+ DOX</text>
</svg>
</body></html>
